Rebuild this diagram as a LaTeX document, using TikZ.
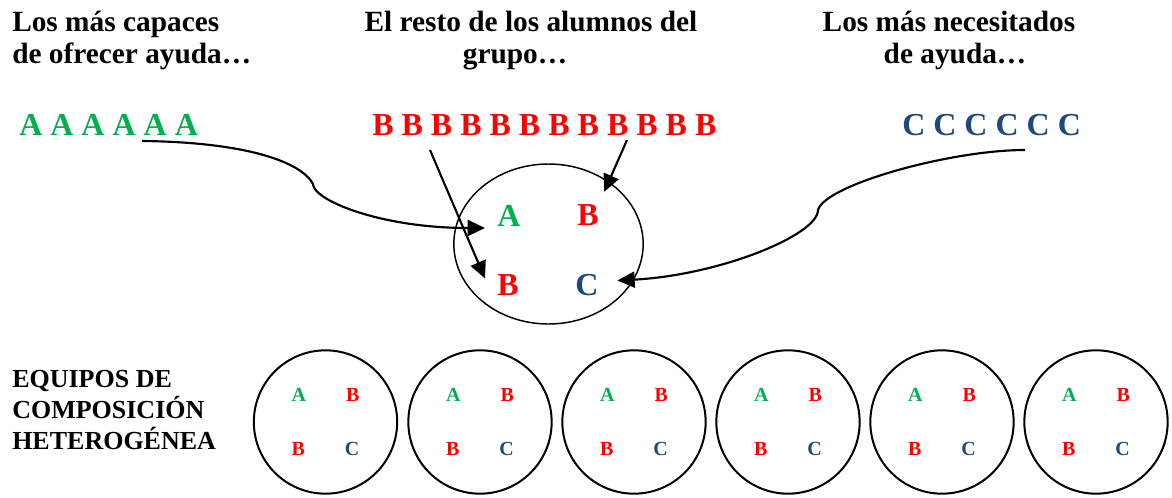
\documentclass[tikz,border=0pt]{standalone}
\usepackage{fontspec}
\setmainfont{Liberation Serif}
\usetikzlibrary{shapes.geometric, arrows.meta}
\definecolor{verdeA}{HTML}{00B050}
\definecolor{rojoB}{HTML}{FF0000}
\definecolor{azulC}{HTML}{1F497D}
\tikzstyle{titulo} = [align=center, inner sep=0pt, font=\fontsize{22}{23.7}\selectfont\bfseries]
\tikzstyle{rotulo} = [align=left, inner sep=0pt, font=\fontsize{19.5}{22.9}\selectfont\bfseries]
\tikzstyle{fila} = [inner sep=0pt, font=\fontsize{24}{28}\selectfont\bfseries]
\tikzstyle{letra} = [inner sep=0pt, font=\fontsize{24}{28}\selectfont\bfseries]
\tikzstyle{grupo} = [ellipse, draw=black, line width=1.1pt, minimum width=142pt, minimum height=120pt]
\tikzstyle{equipo} = [circle, draw=black, line width=1.5pt, minimum size=107.5pt, inner sep=0pt, align=center, font=\fontsize{15}{40.5}\selectfont\bfseries]
\tikzstyle{arrow} = [line width=1.6pt, -{Triangle[length=13pt,width=12pt]}]
\newcommand{\letrasequipo}{\textcolor{verdeA}{A}\hspace{30pt}\textcolor{rojoB}{B}\\\textcolor{rojoB}{B}\hspace{30pt}\textcolor{azulC}{C}}

\begin{document}
\begin{tikzpicture}[x=0.75pt, y=-0.75pt]
\useasboundingbox (0,0) rectangle (1172,497);
\node (capaces) [titulo, align=left, anchor=base west] at (12,63.3) {Los más capaces\\de ofrecer ayuda…};
\node (resto) [titulo, anchor=base] at (531,63.3) {El resto de los alumnos del\\grupo…\hspace*{24pt}};
\node (necesitados) [titulo, anchor=base] at (949,63.3) {Los más necesitados\\\hspace*{9pt}de ayuda…};

\node (filaA) [fila, anchor=base west, text=verdeA] at (19,135) {A A A A A A};
\node (filaB) [fila, anchor=base west, text=rojoB] at (372,135) {B B B B B B B B B B B B};
\node (filaC) [fila, anchor=base west, text=azulC] at (902,135) {C C C C C C};

\node (grupo) [grupo] at (548.5,244) {};
\node (gA) [letra, anchor=base west, text=verdeA] at (497,226) {A};
\node (gB1) [letra, anchor=base west, text=rojoB] at (577,225) {B};
\node (gB2) [letra, anchor=base west, text=rojoB] at (497,295) {B};
\node (gC) [letra, anchor=base west, text=azulC] at (575,295) {C};

\coordinate (pA) at (142,141);
\coordinate (pB1) at (430,150);
\coordinate (pB2) at (627,140);
\coordinate (pC) at (1025,150);

\draw [arrow](pA) .. controls (240,142) and (300,160) .. (313,184) .. controls (313,200) and (380,228) .. ([xshift=-9pt,yshift=-1.5pt]gA.base west);
\draw [arrow](pB1) -- ([xshift=-9pt,yshift=4.5pt]gB2.west);
\draw [arrow](pB2) -- ([xshift=4pt,yshift=9pt]gB1.north east);
\draw [arrow](pC) .. controls (950,150) and (825,185) .. (818,210) .. controls (818,235) and (720,275) .. ([xshift=14pt,yshift=3pt]gC.east);

\node (equipos) [rotulo, anchor=base west] at (12,449) {EQUIPOS DE\\COMPOSICIÓN\\HETEROGÉNEA};
\node (eq1) [equipo] at (325.5,422) {\letrasequipo};
\node (eq2) [equipo] at (480,422) {\letrasequipo};
\node (eq3) [equipo] at (634,422) {\letrasequipo};
\node (eq4) [equipo] at (788,422) {\letrasequipo};
\node (eq5) [equipo] at (942,422) {\letrasequipo};
\node (eq6) [equipo] at (1096,422) {\letrasequipo};
\end{tikzpicture}
\end{document}
